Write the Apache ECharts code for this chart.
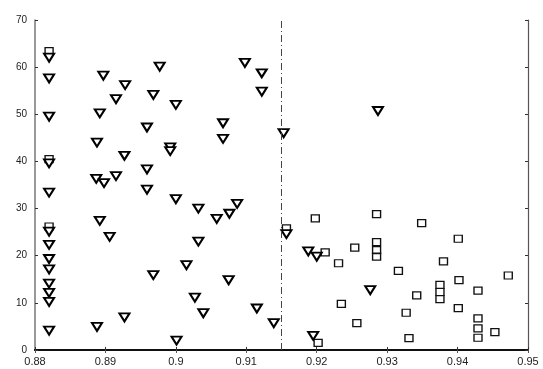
<!DOCTYPE html>
<html>
<head>
<meta charset="utf-8">
<script src="https://cdn.jsdelivr.net/npm/echarts@6/dist/echarts.min.js"></script>
<style>
html, body { margin: 0; padding: 0; background: #fff; }
#main { width: 543px; height: 369px; }
</style>
</head>
<body>
<div id="main"></div>
<script>
// axis ticks
var xTicks = [0.88, 0.89, 0.9, 0.91, 0.92, 0.93, 0.94, 0.95];
var yTicks = [0, 10, 20, 30, 40, 50, 60, 70];
var splitX = 0.915;

// inverted triangles
var triPoints = [
  [0.882,62],[0.882,57.6],[0.882,49.5],[0.882,39.6],[0.882,33.4],[0.882,25.1],[0.882,22.3],
  [0.882,19.3],[0.882,17.1],[0.882,14.1],[0.882,12.1],[0.882,10.2],[0.882,4.1],
  [0.8897,58.2],[0.8977,60.1],[0.8928,56.2],[0.8915,53.2],[0.8968,54.1],[0.9,52.0],
  [0.8892,50.2],[0.8959,47.2],[0.8888,44.0],[0.8992,43.0],[0.8992,42.2],[0.8927,41.2],
  [0.8959,38.3],[0.8915,36.9],[0.8887,36.3],[0.8898,35.4],[0.8959,34.0],[0.9,32.0],
  [0.9032,30.0],[0.8892,27.4],[0.8906,24.0],[0.9032,23.0],[0.9015,18.0],[0.8968,15.9],
  [0.9027,11.1],[0.9039,7.8],[0.8927,6.9],[0.8888,4.9],[0.9001,2.0],[0.9058,27.8],
  [0.9076,28.9],[0.9087,31.0],[0.9075,14.8],[0.9115,8.8],[0.9139,5.7],[0.9098,60.9],
  [0.9122,58.7],[0.9122,54.8],[0.9067,48.1],[0.9067,44.8],[0.9153,46.0],[0.9287,50.7],
  [0.9157,24.6],[0.9188,20.9],[0.92,19.8],[0.9195,3.0],[0.9276,12.7]
];

// hollow squares
var sqPoints = [
  [0.882,63.4],[0.882,40.5],[0.882,26.2],
  [0.9157,25.8],[0.9198,27.9],[0.9212,20.7],[0.9231,18.4],[0.9235,9.8],[0.9254,21.7],
  [0.9257,5.7],[0.9202,1.5],[0.9285,28.8],[0.9285,22.9],[0.9285,21.2],[0.9285,19.8],
  [0.9316,16.8],[0.9349,26.9],[0.9342,11.6],[0.9327,7.9],[0.9331,2.5],[0.9401,23.6],
  [0.938,18.8],[0.9375,13.8],[0.9375,12.3],[0.9375,10.8],[0.9402,14.8],[0.9401,8.9],
  [0.9429,12.6],[0.9429,6.7],[0.9429,4.6],[0.9429,2.6],[0.9453,3.8],[0.9472,15.8]
];

var chart = echarts.init(document.getElementById('main'));
var font = 'Liberation Sans, Arial, sans-serif';

chart.setOption({
  animation: false,
  grid: { left: 35, right: 15, top: 20, bottom: 19 },
  xAxis: [{
    type: 'value',
    min: xTicks[0], max: xTicks[xTicks.length - 1], interval: 0.01,
    axisLine: { lineStyle: { color: '#111', width: 2 } },
    axisTick: { inside: true, length: 3, lineStyle: { color: '#333' } },
    axisLabel: { margin: 6, color: '#222', fontSize: 11, fontFamily: font },
    splitLine: { show: false }
  }, {
    type: 'value', position: 'top',
    min: xTicks[0], max: xTicks[xTicks.length - 1], interval: 0.01,
    axisLine: { lineStyle: { color: '#111', width: 2 } },
    axisTick: { inside: true, length: 3, lineStyle: { color: '#555' } },
    axisLabel: { show: false },
    splitLine: { show: false }
  }],
  yAxis: [{
    type: 'value',
    min: yTicks[0], max: yTicks[yTicks.length - 1], interval: 10,
    axisLine: { show: true, lineStyle: { color: '#777', width: 1.5 } },
    axisTick: { show: true, inside: true, length: 3, lineStyle: { color: '#333' } },
    axisLabel: { margin: 8, color: '#222', fontSize: 10, fontFamily: font },
    splitLine: { show: false }
  }, {
    type: 'value', position: 'right',
    min: yTicks[0], max: yTicks[yTicks.length - 1], interval: 10,
    axisLine: { show: true, lineStyle: { color: '#555', width: 1.2 } },
    axisTick: { show: true, inside: true, length: 3, lineStyle: { color: '#333' } },
    axisLabel: { show: false },
    splitLine: { show: false }
  }],
  series: [{
    type: 'scatter',
    data: triPoints,
    symbol: 'triangle',
    symbolRotate: 180,
    symbolSize: [10, 8],
    itemStyle: { color: '#fff', borderColor: '#000', borderWidth: 2, opacity: 1 },
    markLine: {
      silent: true,
      symbol: 'none',
      precision: 3,
      label: { show: false },
      lineStyle: { color: '#444', width: 1, type: [7, 3, 1, 3] },
      data: [{ xAxis: splitX }]
    },
    z: 3
  }, {
    type: 'scatter',
    data: sqPoints,
    symbol: 'rect',
    symbolSize: [8, 7],
    itemStyle: { color: 'rgba(255,255,255,0)', borderColor: '#111', borderWidth: 1.3, opacity: 1 },
    z: 2
  }]
});
</script>
</body>
</html>
